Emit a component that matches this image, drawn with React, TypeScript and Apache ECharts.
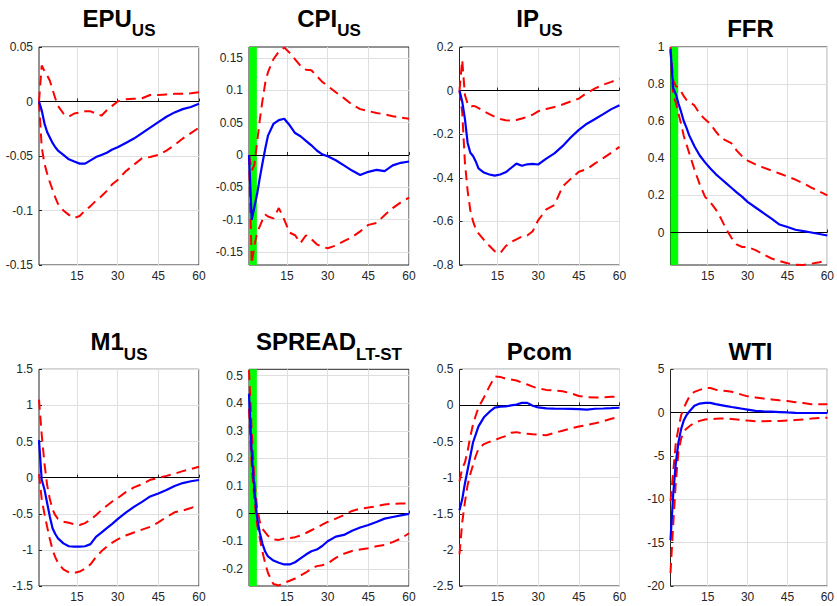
import { useEffect, useRef } from 'react';
import * as echarts from 'echarts';

// Horizons (months) at which the responses are read
const horizon = [1, 2, 3, 4, 5, 6, 7, 8, 10, 12, 14, 16, 18, 20, 22, 24, 26, 28, 30, 33, 36, 39, 42, 45, 48, 51, 54, 57, 60];
const xTicks = [15, 30, 45, 60];
// restriction window shaded in green (months)
const restrictionWindow = [1, 3.9];

const epuMedian = [0, -0.008, -0.02, -0.028, -0.033, -0.038, -0.042, -0.045, -0.049, -0.053, -0.055, -0.057, -0.057, -0.054, -0.051, -0.049, -0.047, -0.044, -0.042, -0.038, -0.034, -0.029, -0.024, -0.019, -0.014, -0.01, -0.007, -0.005, -0.002];
const epuUpper = [0, 0.033, 0.028, 0.024, 0.019, 0.011, 0.003, -0.004, -0.011, -0.014, -0.011, -0.01, -0.009, -0.009, -0.011, -0.013, -0.008, -0.004, 0, 0.002, 0.0025, 0.003, 0.006, 0.006, 0.0065, 0.007, 0.007, 0.0075, 0.0085];
const epuLower = [0, -0.042, -0.057, -0.066, -0.074, -0.081, -0.088, -0.094, -0.1, -0.104, -0.107, -0.105, -0.1, -0.096, -0.091, -0.087, -0.082, -0.076, -0.072, -0.064, -0.058, -0.052, -0.051, -0.049, -0.045, -0.04, -0.034, -0.029, -0.024];
const epuTicks = [-0.15, -0.1, -0.05, 0, 0.05];

const cpiMedian = [0, -0.1, -0.08, -0.06, -0.035, -0.012, 0.01, 0.03, 0.048, 0.054, 0.056, 0.046, 0.034, 0.029, 0.022, 0.015, 0.007, 0.001, -0.002, -0.008, -0.016, -0.024, -0.031, -0.026, -0.023, -0.025, -0.016, -0.012, -0.01];
const cpiUpper = [0, -0.024, -0.015, 0.02, 0.055, 0.085, 0.112, 0.128, 0.148, 0.16, 0.166, 0.158, 0.148, 0.138, 0.132, 0.131, 0.122, 0.113, 0.107, 0.097, 0.088, 0.078, 0.071, 0.068, 0.065, 0.063, 0.06, 0.058, 0.056];
const cpiLower = [0, -0.168, -0.14, -0.12, -0.11, -0.1, -0.092, -0.095, -0.098, -0.082, -0.1, -0.12, -0.124, -0.136, -0.124, -0.13, -0.138, -0.142, -0.144, -0.14, -0.133, -0.127, -0.118, -0.108, -0.105, -0.093, -0.082, -0.073, -0.066];
const cpiTicks = [-0.15, -0.1, -0.05, 0, 0.05, 0.1, 0.15];

const ipMedian = [0, -0.05, -0.13, -0.24, -0.285, -0.3, -0.325, -0.357, -0.376, -0.385, -0.39, -0.385, -0.375, -0.355, -0.335, -0.345, -0.338, -0.336, -0.339, -0.312, -0.288, -0.255, -0.215, -0.18, -0.152, -0.13, -0.108, -0.085, -0.067];
const ipUpper = [0, 0.14, -0.02, -0.06, -0.075, -0.07, -0.073, -0.08, -0.095, -0.108, -0.12, -0.13, -0.136, -0.137, -0.135, -0.128, -0.12, -0.11, -0.095, -0.084, -0.075, -0.064, -0.05, -0.037, -0.01, 0.01, 0.027, 0.04, 0.055];
const ipLower = [0, -0.1, -0.33, -0.46, -0.55, -0.6, -0.635, -0.655, -0.685, -0.712, -0.737, -0.746, -0.714, -0.695, -0.682, -0.67, -0.665, -0.645, -0.595, -0.545, -0.525, -0.44, -0.405, -0.372, -0.36, -0.334, -0.31, -0.285, -0.258];
const ipTicks = [-0.8, -0.6, -0.4, -0.2, 0, 0.2];

const ffrMedian = [0.99, 0.78, 0.745, 0.695, 0.65, 0.6, 0.565, 0.525, 0.465, 0.415, 0.378, 0.345, 0.315, 0.29, 0.265, 0.24, 0.215, 0.192, 0.165, 0.135, 0.105, 0.075, 0.043, 0.03, 0.015, 0.008, 0.0, -0.008, -0.016];
const ffrUpper = [1.0, 0.82, 0.79, 0.78, 0.76, 0.735, 0.715, 0.705, 0.685, 0.64, 0.61, 0.585, 0.545, 0.51, 0.495, 0.48, 0.44, 0.41, 0.388, 0.367, 0.35, 0.334, 0.318, 0.302, 0.285, 0.265, 0.242, 0.222, 0.2];
const ffrLower = [0.98, 0.74, 0.7, 0.64, 0.585, 0.52, 0.475, 0.43, 0.34, 0.26, 0.192, 0.163, 0.125, 0.075, 0.017, -0.03, -0.065, -0.078, -0.078, -0.095, -0.118, -0.14, -0.153, -0.166, -0.174, -0.175, -0.168, -0.16, -0.15];
const ffrTicks = [0, 0.2, 0.4, 0.6, 0.8, 1];

const m1Median = [0.52, -0.03, -0.16, -0.35, -0.54, -0.7, -0.78, -0.84, -0.91, -0.95, -0.955, -0.955, -0.95, -0.92, -0.82, -0.76, -0.7, -0.64, -0.575, -0.485, -0.405, -0.335, -0.26, -0.22, -0.172, -0.115, -0.075, -0.05, -0.032];
const m1Upper = [1.08, 0.6, 0.2, -0.1, -0.3, -0.44, -0.52, -0.57, -0.61, -0.625, -0.645, -0.655, -0.63, -0.58, -0.52, -0.45, -0.39, -0.33, -0.285, -0.2, -0.135, -0.09, -0.03, -0.005, 0.025, 0.055, 0.09, 0.12, 0.152];
const m1Lower = [0.05, -0.3, -0.5, -0.68, -0.85, -1.0, -1.1, -1.18, -1.27, -1.31, -1.32, -1.3, -1.26, -1.2, -1.1, -1.02, -0.955, -0.9, -0.855, -0.8, -0.76, -0.72, -0.68, -0.62, -0.545, -0.48, -0.455, -0.42, -0.378];
const m1Ticks = [-1.5, -1, -0.5, 0, 0.5, 1, 1.5];

const spreadMedian = [0.435, 0.22, 0.085, -0.015, -0.07, -0.11, -0.138, -0.155, -0.17, -0.178, -0.184, -0.184, -0.176, -0.162, -0.148, -0.136, -0.13, -0.117, -0.1, -0.083, -0.077, -0.062, -0.05, -0.041, -0.03, -0.018, -0.012, -0.006, -0.001];
const spreadUpper = [0.52, 0.3, 0.12, 0.02, -0.03, -0.055, -0.068, -0.08, -0.093, -0.095, -0.09, -0.088, -0.085, -0.079, -0.07, -0.06, -0.05, -0.04, -0.03, -0.018, -0.005, 0.01, 0.018, 0.022, 0.027, 0.033, 0.036, 0.037, 0.036];
const spreadLower = [0.38, 0.17, 0.05, -0.04, -0.09, -0.14, -0.18, -0.215, -0.255, -0.26, -0.25, -0.243, -0.235, -0.224, -0.213, -0.2, -0.19, -0.187, -0.18, -0.16, -0.145, -0.135, -0.13, -0.125, -0.118, -0.113, -0.103, -0.09, -0.071];
const spreadTicks = [-0.2, -0.1, 0, 0.1, 0.2, 0.3, 0.4, 0.5];

const pcomMedian = [-1.45, -1.3, -1.08, -0.89, -0.7, -0.51, -0.4, -0.29, -0.165, -0.09, -0.03, -0.018, -0.015, 0.0, 0.012, 0.035, 0.035, -0.005, -0.028, -0.04, -0.045, -0.046, -0.047, -0.052, -0.058, -0.046, -0.043, -0.038, -0.032];
const pcomUpper = [-1.05, -0.87, -0.79, -0.63, -0.43, -0.26, -0.14, -0.03, 0.11, 0.26, 0.4, 0.395, 0.37, 0.36, 0.345, 0.315, 0.29, 0.26, 0.235, 0.215, 0.205, 0.195, 0.17, 0.13, 0.115, 0.11, 0.112, 0.12, 0.12];
const pcomLower = [-2.06, -1.62, -1.34, -1.1, -0.95, -0.82, -0.7, -0.6, -0.535, -0.505, -0.48, -0.45, -0.425, -0.38, -0.37, -0.385, -0.392, -0.4, -0.404, -0.412, -0.38, -0.35, -0.32, -0.293, -0.27, -0.248, -0.22, -0.185, -0.157];
const pcomTicks = [-2.5, -2, -1.5, -1, -0.5, 0, 0.5];

const wtiMedian = [-14.7, -9.5, -5.8, -3.4, -1.9, -0.9, -0.3, 0.1, 0.8, 1.05, 1.13, 1.12, 0.98, 0.87, 0.76, 0.65, 0.55, 0.45, 0.35, 0.2, 0.15, 0.11, 0.07, 0.02, -0.02, -0.04, -0.04, -0.04, -0.04];
const wtiUpper = [-10.2, -6.9, -3.5, -1.8, -0.3, 0.5, 1.2, 1.8, 2.4, 2.62, 2.85, 2.85, 2.65, 2.55, 2.5, 2.4, 2.25, 2.05, 1.88, 1.75, 1.62, 1.52, 1.42, 1.33, 1.2, 1.1, 0.98, 0.96, 0.96];
const wtiLower = [-18.5, -13, -8, -4.5, -3.0, -2.2, -1.85, -1.6, -1.15, -0.95, -0.8, -0.75, -0.7, -0.68, -0.69, -0.72, -0.78, -0.86, -0.92, -1.0, -0.98, -0.96, -0.96, -0.92, -0.85, -0.78, -0.69, -0.63, -0.58];
const wtiTicks = [-20, -15, -10, -5, 0, 5];

type Panel = {
  main: string; sub: string; median: number[]; upper: number[]; lower: number[];
  yMin: number; yMax: number; yTicks: number[]; shade: boolean;
};

const panels: Panel[] = [
  { main: 'EPU', sub: 'US', median: epuMedian, upper: epuUpper, lower: epuLower, yMin: -0.15, yMax: 0.05, yTicks: epuTicks, shade: false },
  { main: 'CPI', sub: 'US', median: cpiMedian, upper: cpiUpper, lower: cpiLower, yMin: -0.17, yMax: 0.167, yTicks: cpiTicks, shade: true },
  { main: 'IP', sub: 'US', median: ipMedian, upper: ipUpper, lower: ipLower, yMin: -0.8, yMax: 0.2, yTicks: ipTicks, shade: false },
  { main: 'FFR', sub: '', median: ffrMedian, upper: ffrUpper, lower: ffrLower, yMin: -0.175, yMax: 1, yTicks: ffrTicks, shade: true },
  { main: 'M1', sub: 'US', median: m1Median, upper: m1Upper, lower: m1Lower, yMin: -1.5, yMax: 1.5, yTicks: m1Ticks, shade: false },
  { main: 'SPREAD', sub: 'LT-ST', median: spreadMedian, upper: spreadUpper, lower: spreadLower, yMin: -0.262, yMax: 0.523, yTicks: spreadTicks, shade: true },
  { main: 'Pcom', sub: '', median: pcomMedian, upper: pcomUpper, lower: pcomLower, yMin: -2.5, yMax: 0.5, yTicks: pcomTicks, shade: false },
  { main: 'WTI', sub: '', median: wtiMedian, upper: wtiUpper, lower: wtiLower, yMin: -20, yMax: 5, yTicks: wtiTicks, shade: false },
];

const FONT = '"Liberation Sans", Arial, Helvetica, sans-serif';
const AXIS_COLOR = '#262626';
const GRID_COLOR = '#dfdfdf';

const colLefts = [39, 249, 459.5, 670.5];
const colWidth = 160;
const rowTops = [47, 369.3];
const rowHeights = [218, 216.7];
const mainY = [18.4, 341.7];
const subY = [30.8, 354.1];
const soloY = [28.4, 351.7];
const MAIN_SIZE = 24;
const SUB_SIZE = 17;

function measure(text: string, size: number): number {
  const ctx = document.createElement('canvas').getContext('2d');
  if (!ctx) return text.length * size * 0.65;
  ctx.font = `bold ${size}px ${FONT}`;
  return ctx.measureText(text).width;
}

function fmt(v: number): string {
  return String(Number(v.toFixed(3)));
}

function pairs(ys: number[]): number[][] {
  return horizon.map((h, k) => [h, ys[k]]);
}

export default function App() {
  const ref = useRef<HTMLDivElement>(null);

  useEffect(() => {
    if (!ref.current) return;
    const chart = echarts.init(ref.current, undefined, { renderer: 'svg' });

    const grids: any[] = [];
    const xAxes: any[] = [];
    const yAxes: any[] = [];
    const series: any[] = [];
    const graphics: any[] = [];

    panels.forEach((p, i) => {
      const r = Math.floor(i / 4);
      const c = i % 4;
      const left = colLefts[c];
      const top = rowTops[r];
      grids.push({
        left, top, width: colWidth, height: rowHeights[r],
        show: true, borderColor: AXIS_COLOR, borderWidth: 1, backgroundColor: '#ffffff',
        containLabel: false,
      });
      xAxes.push({
        type: 'value', gridIndex: i, min: 1, max: 60,
        axisLine: { show: false },
        axisTick: { show: true, inside: true, length: 3, customValues: xTicks, lineStyle: { color: AXIS_COLOR } },
        axisLabel: { customValues: xTicks, margin: 5, color: AXIS_COLOR, fontSize: 12, fontFamily: FONT, formatter: (v: number) => fmt(v) },
        splitLine: { show: true, lineStyle: { color: GRID_COLOR, width: 1 } },
      });
      yAxes.push({
        type: 'value', gridIndex: i, min: p.yMin, max: p.yMax,
        axisLine: { show: false },
        axisTick: { show: true, inside: true, length: 3, customValues: p.yTicks, lineStyle: { color: AXIS_COLOR } },
        axisLabel: { customValues: p.yTicks, margin: 6, color: AXIS_COLOR, fontSize: 12, fontFamily: FONT, formatter: (v: number) => fmt(v) },
        splitLine: { show: true, lineStyle: { color: GRID_COLOR, width: 1 } },
      });

      const lowerSeries: any = {
        type: 'line', xAxisIndex: i, yAxisIndex: i, data: pairs(p.lower),
        showSymbol: false, symbol: 'none', z: 3, silent: true,
        lineStyle: { color: '#ff0000', width: 2, type: [10, 6] },
        markLine: {
          silent: true, symbol: 'none', z: 2, animation: false,
          label: { show: false },
          lineStyle: { color: '#000000', width: 1, type: 'solid' },
          data: [{ yAxis: 0 }],
        },
      };
      if (p.shade) {
        lowerSeries.markArea = {
          silent: true, z: 1,
          itemStyle: { color: '#00ff00', opacity: 1 },
          data: [[{ xAxis: restrictionWindow[0] }, { xAxis: restrictionWindow[1] }]],
        };
      }
      series.push(lowerSeries);
      series.push({
        type: 'line', xAxisIndex: i, yAxisIndex: i, data: pairs(p.upper),
        showSymbol: false, symbol: 'none', z: 3, silent: true,
        lineStyle: { color: '#ff0000', width: 2, type: [10, 6] },
      });
      series.push({
        type: 'line', xAxisIndex: i, yAxisIndex: i, data: pairs(p.median),
        showSymbol: false, symbol: 'none', z: 4, silent: true,
        lineStyle: { color: '#0000ff', width: 2.2 },
      });

      // Title with subscript
      const cx = left + colWidth / 2;
      const w1 = measure(p.main, MAIN_SIZE);
      const w2 = p.sub ? measure(p.sub, SUB_SIZE) : 0;
      const x0 = cx - (w1 + w2) / 2;
      graphics.push({
        type: 'text', x: x0, y: p.sub ? mainY[r] : soloY[r], silent: true,
        style: { text: p.main, fill: '#000000', font: `bold ${MAIN_SIZE}px ${FONT}`, align: 'left', verticalAlign: 'middle' },
      });
      if (p.sub) {
        graphics.push({
          type: 'text', x: x0 + w1, y: subY[r], silent: true,
          style: { text: p.sub, fill: '#000000', font: `bold ${SUB_SIZE}px ${FONT}`, align: 'left', verticalAlign: 'middle' },
        });
      }
    });

    chart.setOption({
      animation: false,
      backgroundColor: '#ffffff',
      grid: grids,
      xAxis: xAxes,
      yAxis: yAxes,
      series,
      graphic: graphics,
    });

    return () => chart.dispose();
  }, []);

  return (
    <div
      ref={ref}
      style={{ position: 'fixed', left: 0, top: 0, width: 837, height: 606, background: '#ffffff' }}
    />
  );
}
